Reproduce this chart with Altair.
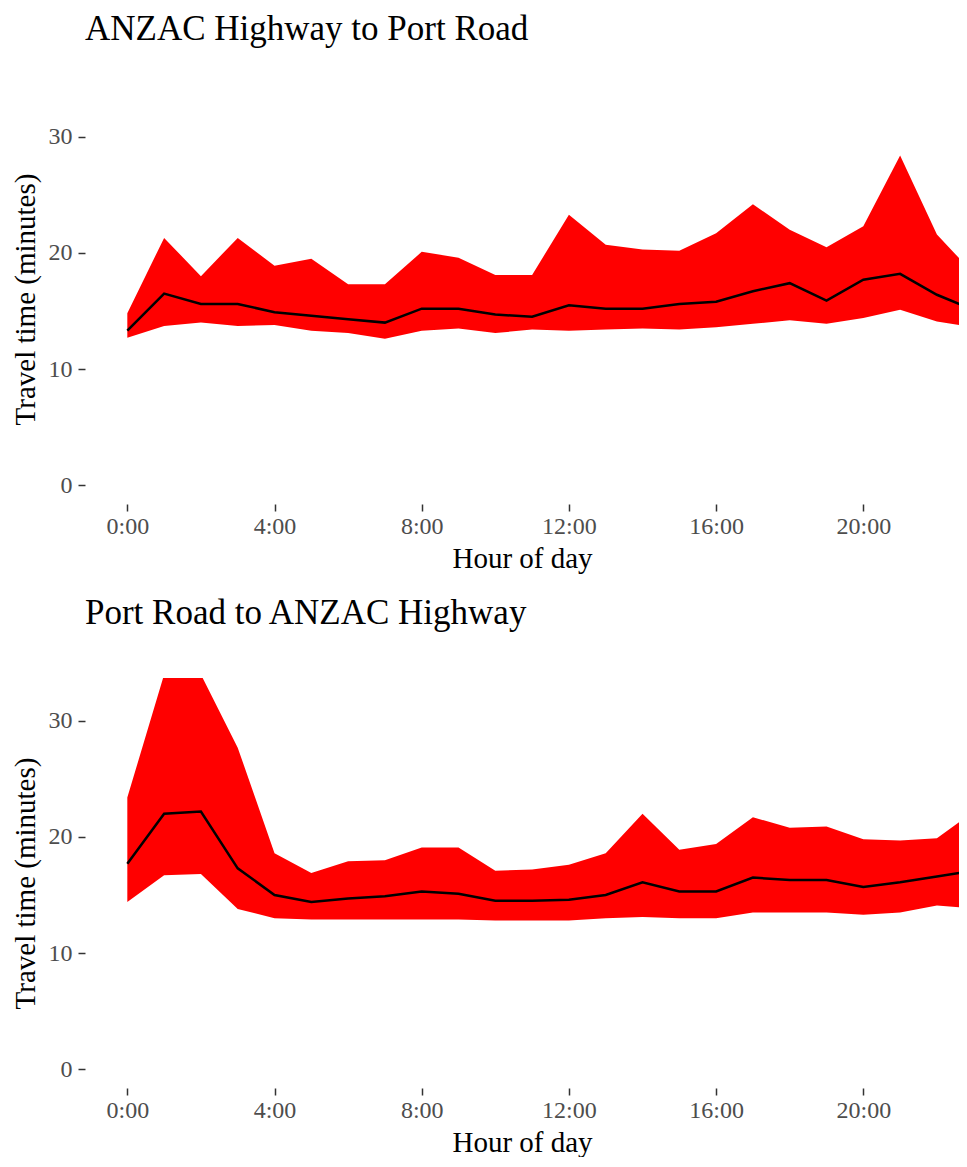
import altair as alt
import pandas as pd

hours = list(range(24))

# ANZAC Highway to Port Road
top_low = [12.7, 13.7, 14.0, 13.7, 13.8, 13.3, 13.1, 12.6, 13.3, 13.5, 13.1, 13.4,
           13.3, 13.4, 13.5, 13.4, 13.6, 13.9, 14.2, 13.9, 14.4, 15.1, 14.1, 13.6]
top_med = [13.3, 16.5, 15.6, 15.6, 14.9, 14.6, 14.3, 14.0, 15.2, 15.2, 14.7, 14.5,
           15.5, 15.2, 15.2, 15.6, 15.8, 16.7, 17.4, 15.9, 17.7, 18.2, 16.4, 15.1]
top_high = [14.8, 21.3, 18.0, 21.3, 18.9, 19.5, 17.3, 17.3, 20.1, 19.6, 18.1, 18.1,
            23.3, 20.7, 20.3, 20.2, 21.7, 24.2, 22.0, 20.5, 22.3, 28.4, 21.6, 18.2]

# Port Road to ANZAC Highway
bot_low = [14.4, 16.7, 16.8, 13.8, 13.0, 12.9, 12.9, 12.9, 12.9, 12.9, 12.8, 12.8,
           12.8, 13.0, 13.1, 13.0, 13.0, 13.5, 13.5, 13.5, 13.3, 13.5, 14.1, 13.85]
bot_med = [17.7, 22.0, 22.2, 17.3, 15.0, 14.4, 14.7, 14.9, 15.3, 15.1, 14.5, 14.5,
           14.6, 15.0, 16.1, 15.3, 15.3, 16.5, 16.3, 16.3, 15.7, 16.1, 16.6, 17.1]
bot_high = [23.4, 34.0, 34.0, 27.7, 18.6, 16.9, 17.9, 18.0, 19.1, 19.1, 17.1, 17.2,
            17.6, 18.6, 22.0, 18.9, 19.4, 21.7, 20.8, 20.9, 19.8, 19.7, 19.9, 22.2]

titles = ["ANZAC Highway to Port Road", "Port Road to ANZAC Highway"]
tick_hours = [0, 4, 8, 12, 16, 20]

FONT = "Liberation Serif"

x_scale = alt.Scale(domain=[-1.15, 22.60], nice=False, zero=False)
y_scale = alt.Scale(domain=[-1.63, 33.7], nice=False, zero=False)

x_axis = alt.Axis(values=tick_hours, labelExpr="datum.value + ':00'",
                  title="Hour of day")
y_axis = alt.Axis(values=[0, 10, 20, 30], title="Travel time (minutes)")


def panel(title, low, med, high):
    df = pd.DataFrame({"hour": hours, "low": low, "med": med, "high": high})
    base = alt.Chart(df)
    area = base.mark_area(color="#FF0000", opacity=1, clip=True).encode(
        x=alt.X("hour:Q", scale=x_scale, axis=x_axis),
        y=alt.Y("low:Q", scale=y_scale, axis=y_axis),
        y2="high:Q",
    )
    line = base.mark_line(color="black", strokeWidth=2.5, clip=True).encode(
        x=alt.X("hour:Q", scale=x_scale),
        y=alt.Y("med:Q", scale=y_scale),
    )
    return alt.layer(area, line).properties(
        width=874, height=410,
        title=alt.TitleParams(title, anchor="start", frame="group"),
    )


chart = alt.vconcat(
    panel(titles[0], top_low, top_med, top_high),
    panel(titles[1], bot_low, bot_med, bot_high),
    spacing=23,
).properties(
    padding={"left": 3, "top": 4, "right": 0, "bottom": 0}
).configure_view(stroke=None).configure_axis(
    domain=False, grid=False,
    tickColor="#333333", tickSize=7, tickWidth=1.5,
    labelFont=FONT, labelFontSize=24, labelColor="#4D4D4D",
    titleFont=FONT, titleFontSize=29, titleColor="black", titleFontWeight="normal",
).configure_axisX(
    labelPadding=3, titlePadding=6,
).configure_axisY(
    labelPadding=6, titlePadding=8,
).configure_title(
    font=FONT, fontSize=35, fontWeight="normal", color="black", offset=47,
)

chart.save("out.html", embed_options={"renderer": "svg", "actions": False})
